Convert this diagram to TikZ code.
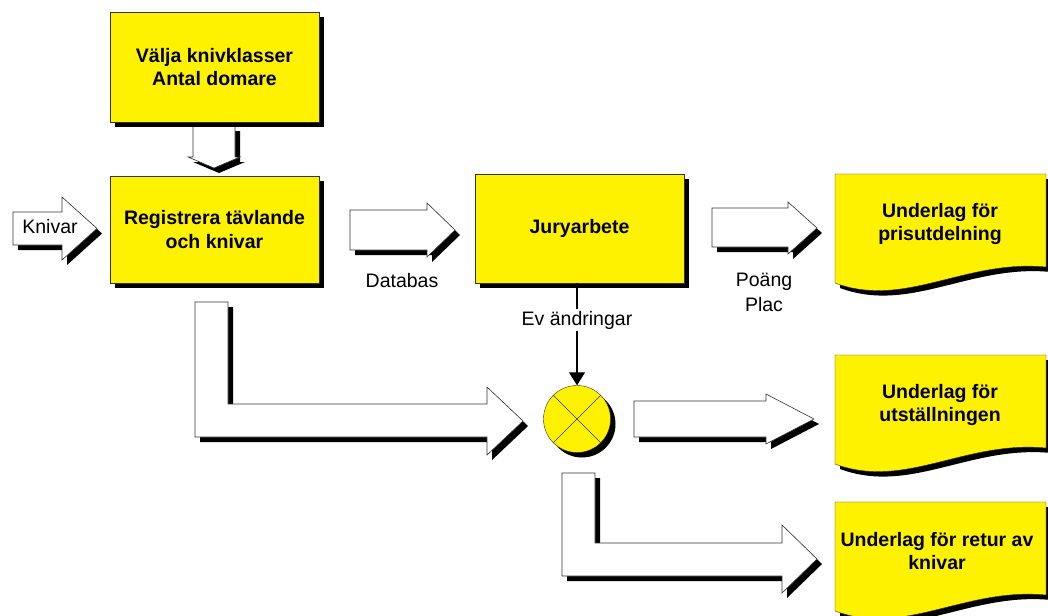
\documentclass[tikz,border=0pt]{standalone}
\usepackage{fontspec}
\setmainfont{Liberation Sans}
\usetikzlibrary{arrows.meta,shadows}

\tikzset{
  dropblk/.style={drop shadow={shadow xshift=5pt,shadow yshift=-5pt,fill=black,opacity=1}},
  task/.style={draw=black!80, fill=yellow, dropblk, minimum width=209pt, minimum height=109pt,
    align=center, font=\fontsize{19.5pt}{23.5pt}\selectfont\bfseries},
  fat/.style={draw=black!80, fill=white, dropblk, line width=.6pt},
  paper/.style={draw=black!80, fill=yellow, dropblk},
  doctext/.style={align=center, font=\fontsize{19.5pt}{23.5pt}\selectfont\bfseries},
  lbl/.style={align=center, font=\fontsize{19.5pt}{25pt}\selectfont},
  docshape/.pic={\path[paper] (0,0) -- (211,0) -- (211,93) .. controls (130,85) and (70,135) .. (0,109) -- cycle;}
}

\begin{document}
\begin{tikzpicture}[x=1pt, y=-1pt]
  \useasboundingbox (0,0) rectangle (1048,615);

  % fat arrows
  \path[fat] (193,126) -- (235,126) -- (235,157) -- (240,157) -- (214,168) -- (188,157) -- (193,157) -- cycle;
  \path[fat] (13,212) -- (62,212) -- (62,197) -- (97,228.5) -- (62,260) -- (62,245) -- (13,245) -- cycle;
  \path[fat] (350,210) -- (427,210) -- (427,203) -- (455,230) -- (427,257) -- (427,250) -- (350,250) -- cycle;
  \path[fat] (712,208) -- (788,208) -- (788,202) -- (817,228) -- (788,254) -- (788,247) -- (712,247) -- cycle;
  \path[fat] (634,401) -- (766,401) -- (766,394) -- (814,419) -- (766,444) -- (766,437) -- (634,437) -- cycle;
  \path[fat] (195,302) -- (228,302) -- (228,404) -- (487,404) -- (487,387) -- (523,421) -- (487,455) -- (487,437) -- (195,437) -- cycle;
  \path[fat] (562,473) -- (595,473) -- (595,543) -- (782,543) -- (782,525) -- (817,559) -- (782,593) -- (782,576) -- (562,576) -- cycle;

  % boxes
  \node[task, minimum height=110pt] (valja) at (214.5,67) {Välja knivklasser\\Antal domare};
  \node[task, minimum height=107pt] (reg) at (214.5,229.5) {Registrera tävlande\\och knivar};
  \node[task] (jury) at (579.5,228.5) {Juryarbete};

  % documents
  \pic at (835,174) {docshape};
  \pic at (835,355) {docshape};
  \pic at (835,502) {docshape};
  \node[doctext] (prize) at (940,224) {Underlag för\\prisutdelning};
  \node[doctext] (expo) at (940,405) {Underlag för\\utställningen};
  \node[doctext] (ret) at (937,551) {Underlag för retur av\\knivar};

  % mixer
  \node[circle, draw=black!80, fill=yellow, dropblk, minimum size=67pt, inner sep=0pt] (mix) at (577,419) {};
  \draw[black!80] (mix.45) -- (mix.225) (mix.135) -- (mix.-45);

  % labels
  \node[lbl] (knv) at (50,227) {Knivar};
  \node[lbl] (db) at (402,281) {Databas};
  \node[lbl] (pts) at (764,292) {Poäng\\Plac};

  \draw[-{Triangle[length=13pt,width=16pt]}, line width=1.2pt] (jury.south -| mix) --
    node[lbl, pos=.36, fill=white, inner sep=2pt] (chg) {Ev ändringar} (mix.north);
\end{tikzpicture}
\end{document}
